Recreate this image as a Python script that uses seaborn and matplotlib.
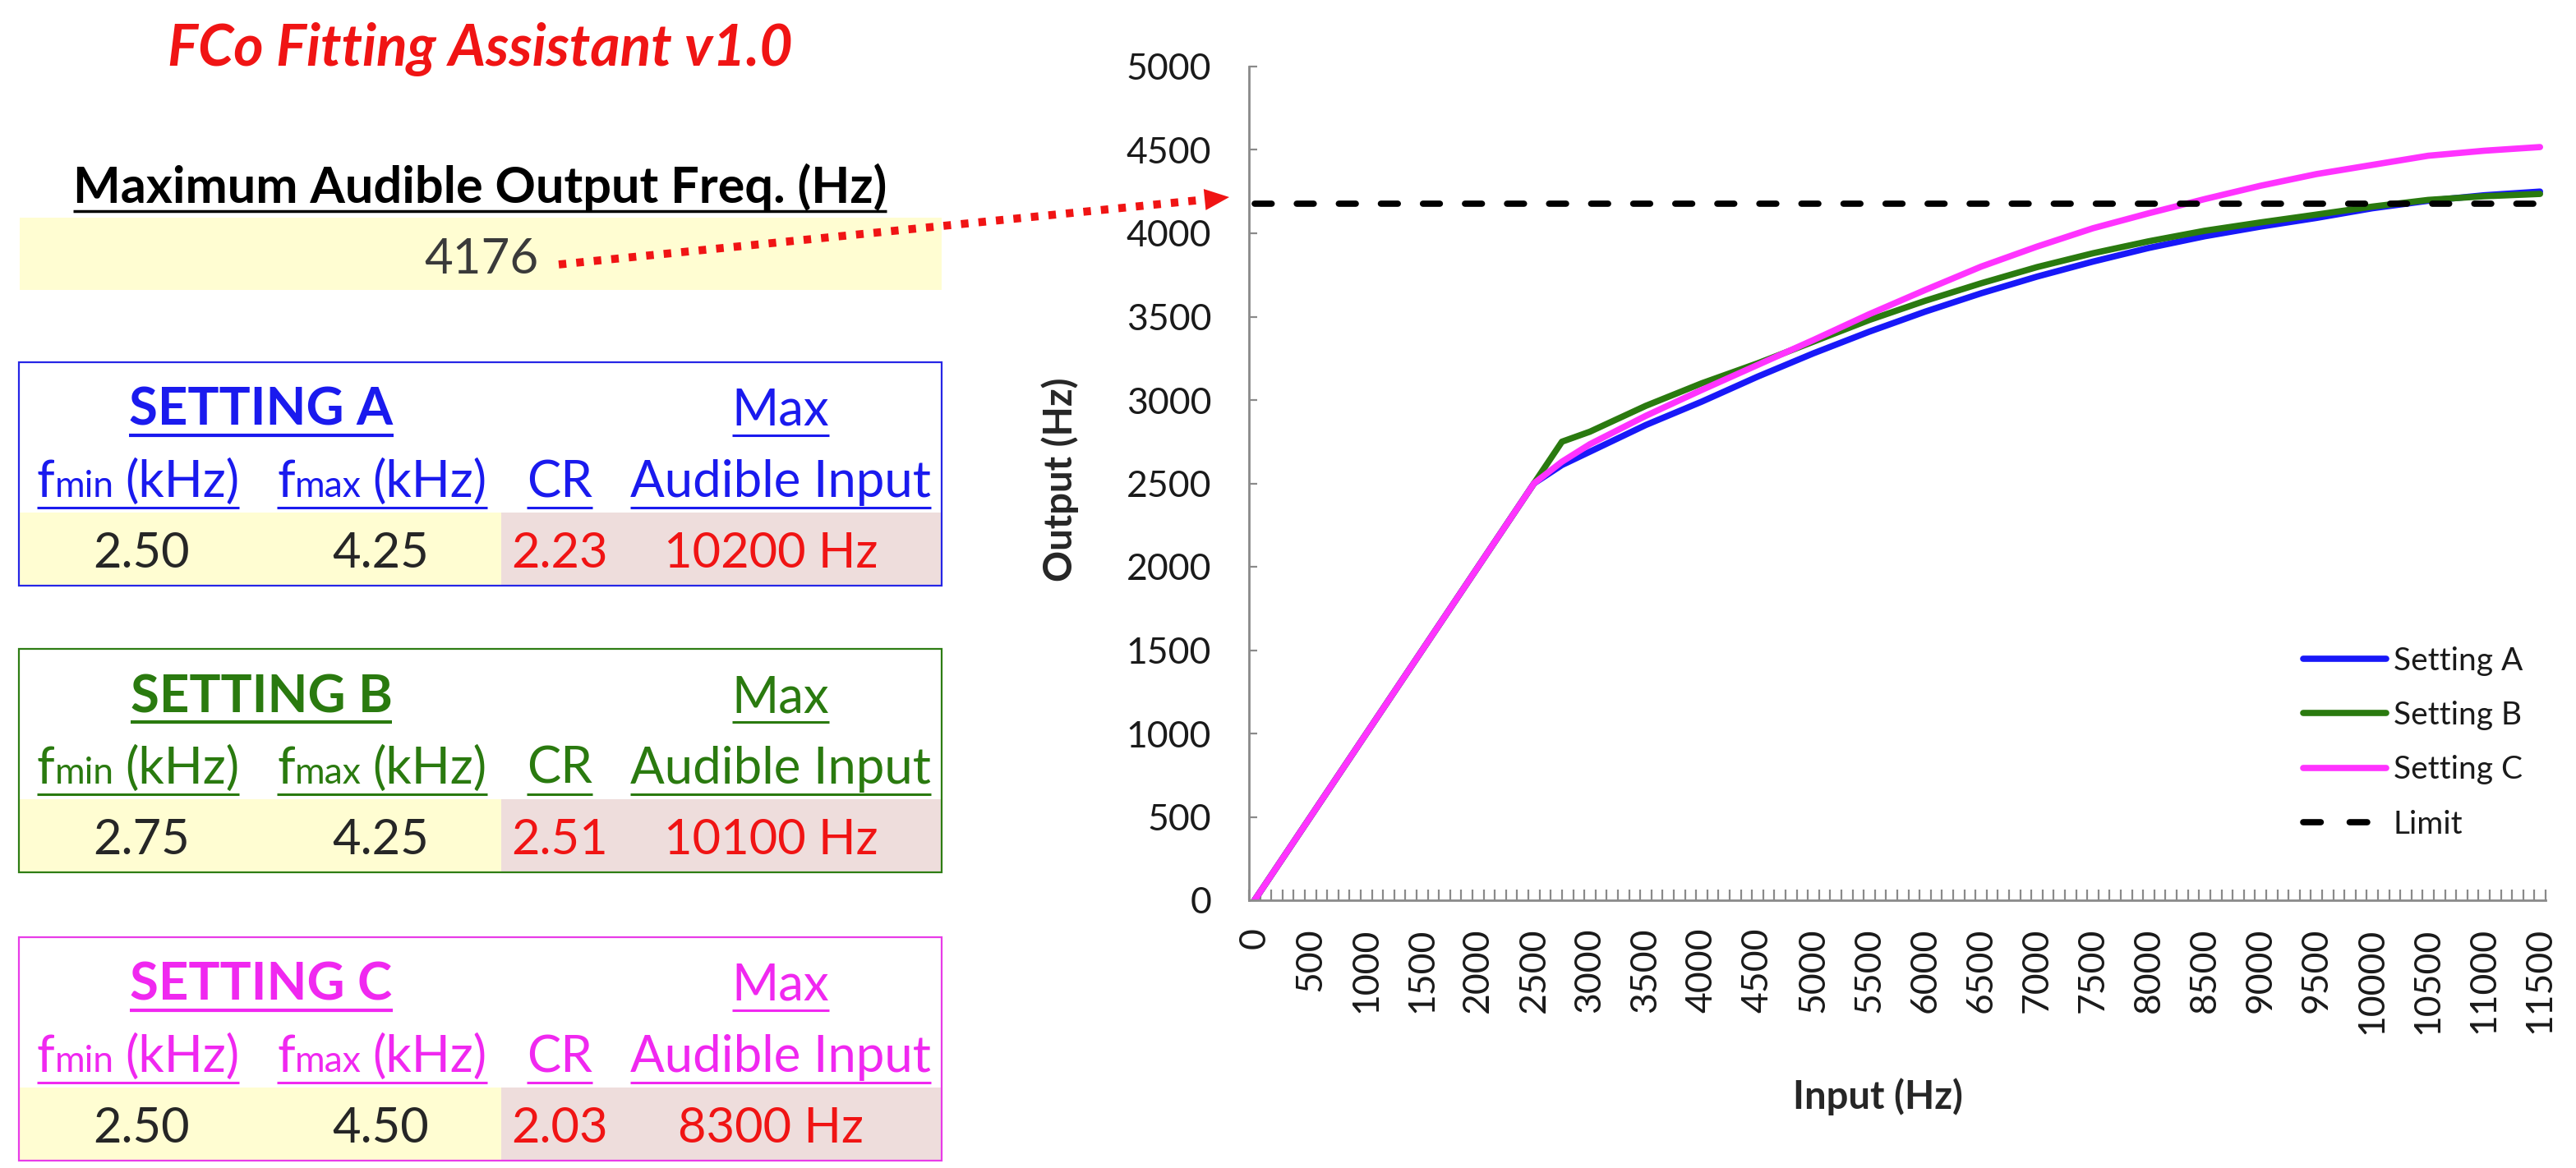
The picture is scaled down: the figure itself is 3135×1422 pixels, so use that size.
import numpy as np
import pandas as pd
import matplotlib
matplotlib.use('Agg')
import matplotlib.pyplot as plt
import seaborn as sns
from matplotlib.patches import Rectangle, Polygon

# ---------------- data ----------------
settings = ['Setting A', 'Setting B', 'Setting C']
letters = ['A', 'B', 'C']
fmin_khz = [2.50, 2.75, 2.50]
fmax_khz = [4.25, 4.25, 4.50]
cr_values = [2.23, 2.51, 2.03]
max_audible_input = [10200, 10100, 8300]
max_audible_output = 4176

input_hz = [0, 500, 1000, 1500, 2000, 2500, 2750, 3000, 3500, 4000, 4500, 5000,
            5500, 6000, 6500, 7000, 7500, 8000, 8500, 9000, 9500, 10000, 10500,
            11000, 11500]
out_a = [0, 500, 1000, 1500, 2000, 2500, 2610, 2690, 2850, 2990, 3140, 3280,
         3410, 3530, 3640, 3740, 3830, 3912, 3982, 4040, 4092, 4150, 4195,
         4228, 4250]
out_b = [0, 500, 1000, 1500, 2000, 2500, 2750, 2810, 2965, 3100, 3220, 3350,
         3480, 3595, 3700, 3797, 3880, 3952, 4015, 4065, 4112, 4160, 4200,
         4222, 4236]
out_c = [0, 500, 1000, 1500, 2000, 2500, 2630, 2735, 2905, 3060, 3210, 3360,
         3515, 3660, 3800, 3920, 4030, 4120, 4205, 4285, 4355, 4410, 4465,
         4495, 4517]
limit_x = [0, 11500]
x_tick_values = list(range(0, 11501, 500))
y_tick_values = list(range(0, 5001, 500))

# ---------------- style ----------------
sns.set_style('white')
plt.rcParams['font.family'] = ['Lato', 'DejaVu Sans']

series_colors = ['#1818F8', '#2A7A0F', '#FF33FF']
box_colors = ['#2626E6', '#2E7D14', '#E83CE8']
text_colors = ['#1A1AEE', '#2A7A0F', '#F028F0']
RED = '#F01414'
YELLOW = '#FFFDD2'
PINK = '#EEDDDC'
DARK = '#262626'

W, H = 3135, 1422
fig = plt.figure(figsize=(W / 100, H / 100), dpi=100)
ov = fig.add_axes([0, 0, 1, 1])
ov.set_xlim(0, W)
ov.set_ylim(H, 0)
ov.axis('off')
ov.patch.set_alpha(0)
renderer = fig.canvas.get_renderer()


def width_of(s, fs, **kw):
    t = ov.text(0, 0, s, fontsize=fs, **kw)
    w = t.get_window_extent(renderer).width
    t.remove()
    return w


def fit(s, target, **kw):
    return 10 * target / width_of(s, 10, **kw)


def underline(cx, w, y, color, lw=2.2):
    ov.plot([cx - w / 2, cx + w / 2], [y, y], color=color, lw=lw,
            solid_capstyle='butt')


def ctext(s, cx, base, fs, color, **kw):
    t = ov.text(cx, base, s, fontsize=fs, color=color, ha='center',
                va='baseline', **kw)
    return t.get_window_extent(renderer).width


def sub_label(main, sub, rest, cx, base, fs, color):
    ratio = 0.72
    w1 = width_of(main, fs)
    w2 = width_of(sub, fs * ratio)
    gap = fs * 100 / 72 * 0.22
    w3 = width_of(rest, fs)
    total = w1 + w2 + gap + w3
    x0 = cx - total / 2
    ov.text(x0, base, main, fontsize=fs, color=color, ha='left', va='baseline')
    ov.text(x0 + w1, base, sub, fontsize=fs * ratio, color=color, ha='left',
            va='baseline')
    ov.text(x0 + w1 + w2 + gap, base, rest, fontsize=fs, color=color,
            ha='left', va='baseline')
    return total


# ---------------- left panel ----------------
title_fs = fit('FCo Fitting Assistant v1.0', 760, fontweight='bold',
               fontstyle='italic')
ctext('FCo Fitting Assistant v1.0', 584, 80, title_fs, RED,
      fontweight='bold', fontstyle='italic')

head_fs = fit('Maximum Audible Output Freq. (Hz)', 992, fontweight='bold')
hw = ctext('Maximum Audible Output Freq. (Hz)', 584, 247, head_fs, 'black',
           fontweight='bold')
underline(584, hw, 257, 'black', lw=2.5)

ov.add_patch(Rectangle((24, 265), 1122, 88, facecolor=YELLOW, lw=0))
big_fs = fit('4176', 140)
ctext(str(max_audible_output), 586, 333, big_fs, '#3a3a3a')

# dotted arrow toward the chart
tip = np.array([1496.0, 240.0])
start = np.array([680.0, 322.0])
d = tip - start
u = d / np.linalg.norm(d)
n = np.array([-u[1], u[0]])
base_pt = tip - 30 * u
ov.plot([start[0], base_pt[0]], [start[1], base_pt[1]], color=RED, lw=7.0,
        linestyle=(0, (0.95, 1.25)), dash_capstyle='butt')
ov.add_patch(Polygon([tip, base_pt + 13 * n, base_pt - 13 * n], closed=True,
                     facecolor=RED, edgecolor=RED, lw=0))

set_fs = fit('SETTING A', 322, fontweight='bold')
lab_fs = fit('Audible Input', 367)
val_fs = fit('2.50', 118)

box_tops = [441, 790, 1141]
for i, T in enumerate(box_tops):
    col = text_colors[i]
    ov.add_patch(Rectangle((23, T + 183), 587, 89, facecolor=YELLOW, lw=0))
    ov.add_patch(Rectangle((610, T + 183), 536, 89, facecolor=PINK, lw=0))
    ov.add_patch(Rectangle((23, T), 1123, 272, fill=False,
                           edgecolor=box_colors[i], lw=1.6))
    w = ctext(f'SETTING {letters[i]}', 318, T + 77, set_fs, col,
              fontweight='bold')
    underline(318, w, T + 89, col, lw=3)
    w = ctext('Max', 950, T + 77, lab_fs, col)
    underline(950, w, T + 89, col)
    w = sub_label('f', 'min', '(kHz)', 168, T + 164, lab_fs, col)
    underline(168, w, T + 177, col)
    w = sub_label('f', 'max', '(kHz)', 465, T + 164, lab_fs, col)
    underline(465, w, T + 177, col)
    w = ctext('CR', 681, T + 164, lab_fs, col)
    underline(681, w, T + 177, col)
    w = ctext('Audible Input', 950, T + 164, lab_fs, col)
    underline(950, w, T + 177, col)
    ctext(f'{fmin_khz[i]:.2f}', 172, T + 250, val_fs, DARK)
    ctext(f'{fmax_khz[i]:.2f}', 463, T + 250, val_fs, DARK)
    ctext(f'{cr_values[i]:.2f}', 681, T + 250, val_fs, RED)
    ctext(f'{max_audible_input[i]} Hz', 938, T + 250, val_fs, RED)

# ---------------- chart ----------------
ax = fig.add_axes([1520 / W, 1 - 1096 / H, 1578 / W, 1015 / H])
ax.patch.set_alpha(0)

curves = pd.DataFrame({
    'Input': input_hz * 3,
    'Output': out_a + out_b + out_c,
    'Series': [s for s in settings for _ in input_hz],
})
for s, c in zip(settings, series_colors):
    sns.lineplot(data=curves[curves['Series'] == s], x='Input', y='Output',
                 color=c, lw=5.5, label=s, ax=ax, sort=False,
                 solid_capstyle='round', solid_joinstyle='round')

limit_df = pd.DataFrame({'Input': limit_x,
                         'Output': [max_audible_output] * len(limit_x)})
sns.lineplot(data=limit_df, x='Input', y='Output', color='black', lw=5.5,
             label='Limit', ax=ax, linestyle=(0, (2.7, 4.0)),
             dash_capstyle='round')

ax.set_xlim(-50, 11550)
ax.set_ylim(0, 5000)
sns.despine(ax=ax)
for sp in ['left', 'bottom']:
    ax.spines[sp].set_color('#8a8a8a')
    ax.spines[sp].set_linewidth(2)

ax.set_xticks(x_tick_values)
ax.set_xticklabels([str(v) for v in x_tick_values], rotation=90)
ax.set_xticks(np.arange(-50, 11551, 100), minor=True)
ax.tick_params(axis='x', which='major', length=0, pad=24, labelsize=32,
               labelcolor='#1a1a1a')
ax.tick_params(axis='x', which='minor', direction='in', length=9.5,
               width=1.6, color='#8a8a8a', bottom=True)
for lbl in ax.get_xticklabels():
    lbl.set_va('top')
    lbl.set_ha('center')
ax.set_yticks(y_tick_values)
ax.tick_params(axis='y', which='major', direction='in', length=7, width=1.6,
               color='#8a8a8a', pad=33, labelsize=32, labelcolor='#1a1a1a',
               left=True)

ax.set_xlabel('Input (Hz)', fontsize=34, fontweight='bold')
ax.set_ylabel('Output (Hz)', fontsize=34, fontweight='bold')
ax.xaxis.set_label_coords(0.485, -0.2355)
ax.xaxis.label.set_va('center')
ax.yaxis.set_label_coords(-0.1458, 0.505)
ax.yaxis.label.set_va('center')

leg = ax.legend(loc='center left', bbox_to_anchor=(2803 / W, 1 - 904 / H),
                bbox_transform=fig.transFigure, frameon=False, fontsize=28,
                borderpad=0, borderaxespad=0, handlelength=2.6,
                handletextpad=0.22, labelspacing=0.78)
for t in leg.get_texts():
    t.set_color('#1a1a1a')
leg.get_lines()[3].set_dashes((2.8, 4.6))

fig.savefig('out.png', dpi=100)
